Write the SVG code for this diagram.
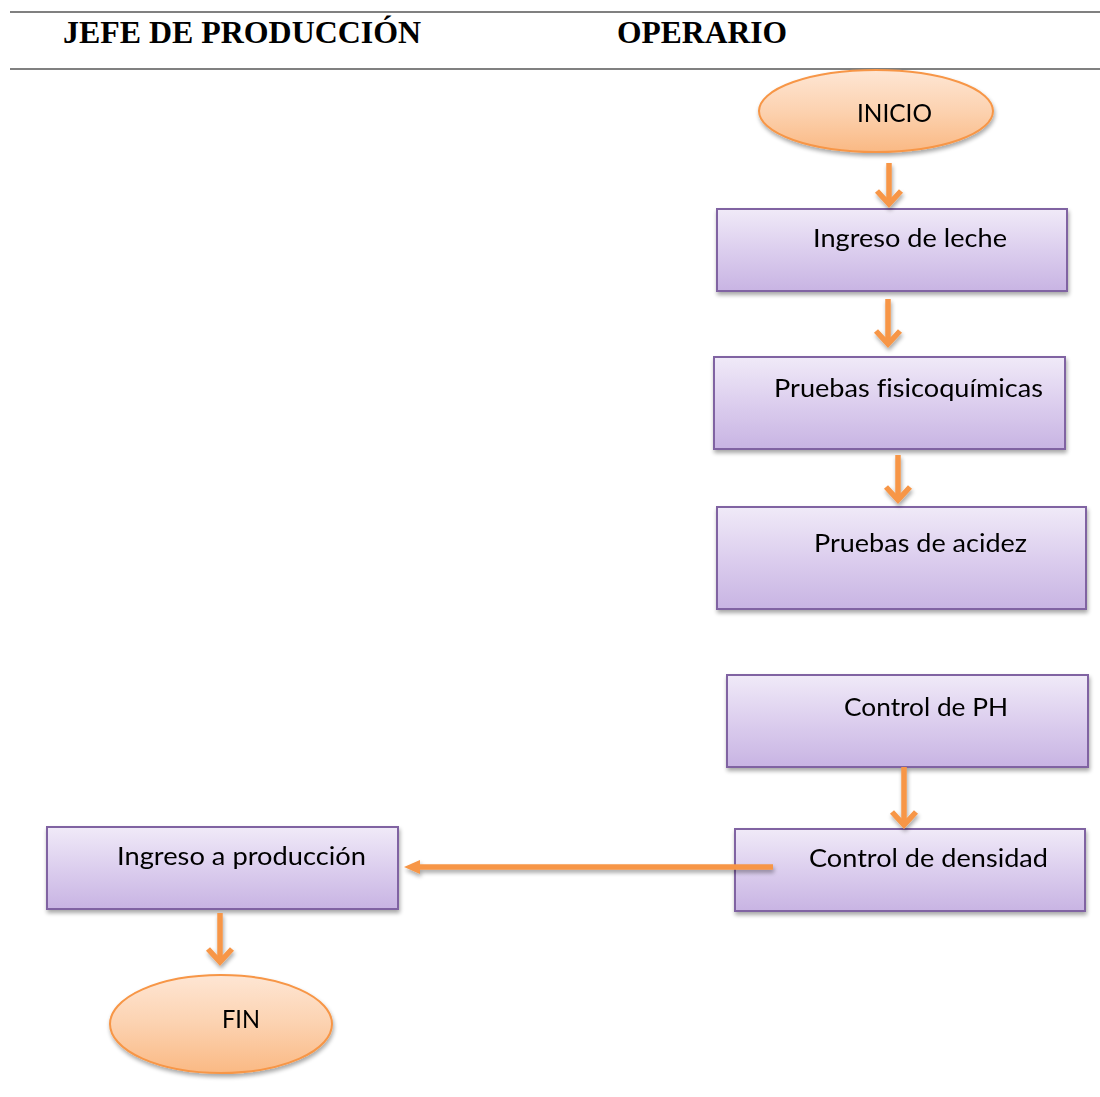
<svg xmlns="http://www.w3.org/2000/svg" width="1100" height="1097" viewBox="0 0 1100 1097">
<defs>
<linearGradient id="gBox" x1="0" y1="0" x2="0" y2="1">
<stop offset="0" stop-color="#F0EAF8"/>
<stop offset="0.5" stop-color="#DCCEEE"/>
<stop offset="1" stop-color="#C8B4E3"/>
</linearGradient>
<linearGradient id="gEll" x1="0" y1="0" x2="0" y2="1">
<stop offset="0" stop-color="#FEE6D4"/>
<stop offset="0.5" stop-color="#FCD2B0"/>
<stop offset="1" stop-color="#FAB984"/>
</linearGradient>
<filter id="sh" x="-10%" y="-10%" width="120%" height="130%">
<feGaussianBlur in="SourceAlpha" stdDeviation="2"/>
<feOffset dx="1" dy="3" result="b"/>
<feComponentTransfer><feFuncA type="linear" slope="0.35"/></feComponentTransfer>
<feMerge><feMergeNode/><feMergeNode in="SourceGraphic"/></feMerge>
</filter>
<marker id="tri" markerUnits="userSpaceOnUse" markerWidth="17" markerHeight="16" refX="1" refY="8" orient="auto" viewBox="0 0 17 16">
<path d="M0,1 L16,8 L0,15 Z" fill="#F79646"/>
</marker>
</defs>
<style>
.hdr{font-family:"Liberation Serif","Times New Roman",serif;font-weight:bold;font-size:32px;fill:#000}
.box{fill:url(#gBox);stroke:#8064A2;stroke-width:2}
.ell{fill:url(#gEll);stroke:#F79646;stroke-width:2}
.lbl{font-family:Lato,"Open Sans",sans-serif;font-size:25px;fill:#000;font-variant-ligatures:none}
.arr{stroke:#F79646;stroke-width:5.5;fill:none;stroke-linecap:butt;stroke-linejoin:miter}
.rule{stroke:#808080;stroke-width:2}
</style>

<g id="header">
<line class="rule" x1="10" y1="12" x2="1100" y2="12"/>
<line class="rule" x1="10" y1="69" x2="1100" y2="69"/>
<text class="hdr" x="63" y="43" textLength="358" lengthAdjust="spacingAndGlyphs">JEFE DE PRODUCCIÓN</text>
<text class="hdr" x="617" y="43" textLength="170" lengthAdjust="spacingAndGlyphs">OPERARIO</text>
</g>

<g id="inicio" filter="url(#sh)">
<ellipse class="ell" cx="876" cy="111" rx="117" ry="41"/>
<text class="lbl" x="857" y="122" textLength="75" lengthAdjust="spacingAndGlyphs">INICIO</text>
</g>

<g id="ingreso-leche" filter="url(#sh)">
<rect class="box" x="717" y="209" width="350" height="82"/>
<text class="lbl" x="813" y="247" textLength="194" lengthAdjust="spacingAndGlyphs">Ingreso de leche</text>
</g>

<g id="pruebas-fisicoquimicas" filter="url(#sh)">
<rect class="box" x="714" y="357" width="351" height="92"/>
<text class="lbl" x="774" y="397" textLength="269" lengthAdjust="spacingAndGlyphs">Pruebas fisicoquímicas</text>
</g>

<g id="pruebas-acidez" filter="url(#sh)">
<rect class="box" x="717" y="507" width="369" height="102"/>
<text class="lbl" x="814" y="552" textLength="213" lengthAdjust="spacingAndGlyphs">Pruebas de acidez</text>
</g>

<g id="control-ph" filter="url(#sh)">
<rect class="box" x="727" y="675" width="361" height="92"/>
<text class="lbl" x="844" y="716" textLength="164" lengthAdjust="spacingAndGlyphs">Control de PH</text>
</g>

<g id="control-densidad" filter="url(#sh)">
<rect class="box" x="735" y="829" width="350" height="82"/>
<text class="lbl" x="809" y="867" textLength="239" lengthAdjust="spacingAndGlyphs">Control de densidad</text>
</g>

<g id="ingreso-produccion" filter="url(#sh)">
<rect class="box" x="47" y="827" width="351" height="82"/>
<text class="lbl" x="117" y="865" textLength="249" lengthAdjust="spacingAndGlyphs">Ingreso a producción</text>
</g>

<g id="fin" filter="url(#sh)">
<ellipse class="ell" cx="221" cy="1024" rx="111" ry="49"/>
<text class="lbl" x="222" y="1028" textLength="38" lengthAdjust="spacingAndGlyphs">FIN</text>
</g>

<g id="connectors">
<g filter="url(#sh)">
<line class="arr" x1="889" y1="163" x2="889" y2="203"/>
<polyline class="arr" points="877,191 889,204 901,191"/>
<line class="arr" x1="888" y1="299" x2="888" y2="343"/>
<polyline class="arr" points="876,331 888,344 900,331"/>
<line class="arr" x1="898" y1="455" x2="898" y2="499"/>
<polyline class="arr" points="886,487 898,500 910,487"/>
<line class="arr" x1="904" y1="767" x2="904" y2="824"/>
<polyline class="arr" points="892,812 904,825 916,812"/>
<line class="arr" x1="220" y1="913" x2="220" y2="961"/>
<polyline class="arr" points="208,949 220,962 232,949"/>
<line class="arr" x1="773" y1="867" x2="419" y2="867" marker-end="url(#tri)"/>
</g>
</g>
</svg>
